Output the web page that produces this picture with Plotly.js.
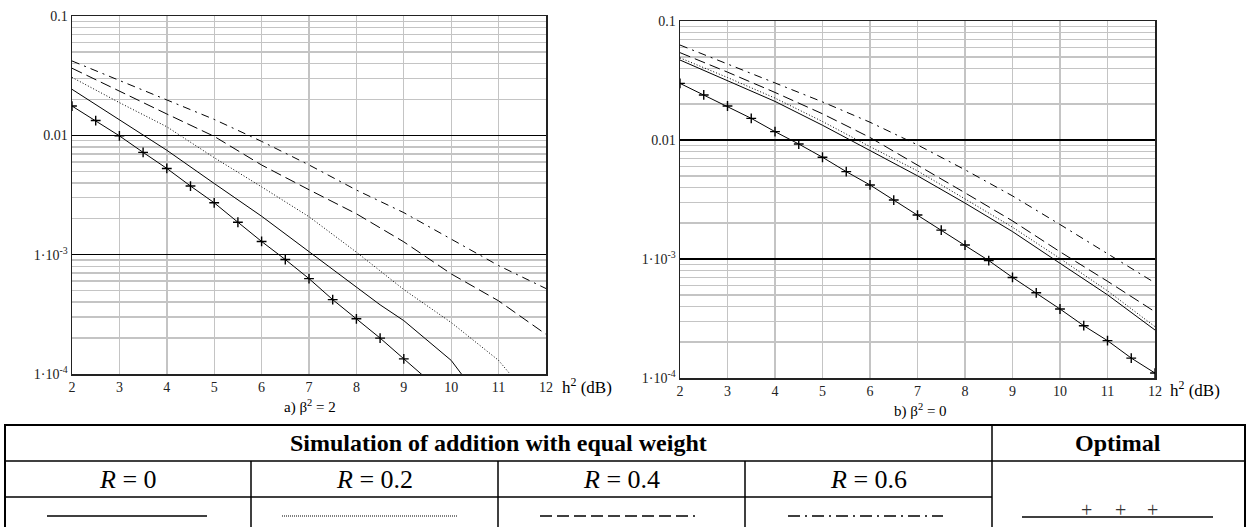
<!DOCTYPE html>
<html>
<head>
<meta charset="utf-8">
<script src="https://cdn.plot.ly/plotly-3.0.1.min.js"></script>
<style>html,body{margin:0;padding:0;background:#fff;}#chart{width:1249px;height:527px;}</style>
</head>
<body>
<div id="chart"></div>
<script>
// ---------- Data: panel a) beta^2 = 2 ----------
const xA = [2, 3, 4, 5, 6, 7, 8, 9, 10, 11, 12];
const xA_R0 = [2, 3, 4, 5, 6, 7, 8, 8.5, 9, 10, 10.4];
const yA_R0 = [0.0243, 0.0135, 0.0075, 0.00395, 0.0021, 0.00106, 0.00053, 0.00038, 0.00028, 0.00013, 0.00008];
const xA_R02 = [2, 3, 4, 5, 6, 7, 8, 9, 10, 11, 11.4];
const yA_R02 = [0.0306, 0.0188, 0.0118, 0.0065, 0.0037, 0.00208, 0.00105, 0.00051, 0.00027, 0.00013, 0.000084];
const yA_R04 = [0.0365, 0.0234, 0.0151, 0.0098, 0.00564, 0.0035, 0.0022, 0.00128, 0.00069, 0.00041, 0.000215];
const yA_R06 = [0.042, 0.0288, 0.0200, 0.0136, 0.0089, 0.00565, 0.00348, 0.00225, 0.00135, 0.00081, 0.00052];
const xA_opt = [2, 2.5, 3, 3.5, 4, 4.5, 5, 5.5, 6, 6.5, 7, 7.5, 8, 8.5, 9, 9.5];
const yA_opt = [0.0176, 0.0133, 0.0099, 0.0072, 0.00528, 0.00376, 0.00272, 0.00187, 0.00129, 0.00091, 0.00063, 0.00042, 0.00029, 0.0002, 0.000134, 0.00009];

// ---------- Data: panel b) beta^2 = 0 ----------
const xB = [2, 3, 4, 5, 6, 7, 8, 9, 10, 11, 12];
const yB_R0 = [0.047, 0.0316, 0.0211, 0.0133, 0.0081, 0.0050, 0.00295, 0.0017, 0.00092, 0.0005, 0.000253];
const yB_R02 = [0.049, 0.0335, 0.0225, 0.0143, 0.0088, 0.0055, 0.0032, 0.00185, 0.00101, 0.00054, 0.00027];
const yB_R04 = [0.0542, 0.0372, 0.0251, 0.0166, 0.0105, 0.00617, 0.0036, 0.00209, 0.00115, 0.00065, 0.00036];
const yB_R06 = [0.0628, 0.0437, 0.0302, 0.0209, 0.0141, 0.0091, 0.00562, 0.00339, 0.00195, 0.0011, 0.00063];
const xB_opt = [2, 2.5, 3, 3.5, 4, 4.5, 5, 5.5, 6, 6.5, 7, 7.5, 8, 8.5, 9, 9.5, 10, 10.5, 11, 11.5, 12];
const yB_opt = [0.0299, 0.0239, 0.0193, 0.0152, 0.01175, 0.00925, 0.00716, 0.00542, 0.00419, 0.00313, 0.00234, 0.00175, 0.00131, 0.00097, 0.0007, 0.00052, 0.00038, 0.000275, 0.000206, 0.000147, 0.00011];

// ---------- Tick labels / texts ----------
const yTickVals = [0.0001, 0.001, 0.01, 0.1];
const yTickText = ['1·10<sup>-4</sup>', '1·10<sup>-3</sup>', '0.01', '0.1'];
const xTickVals = [2, 3, 4, 5, 6, 7, 8, 9, 10, 11, 12];
const captions = ['a) β<sup>2</sup> = 2', 'b) β<sup>2</sup> = 0'];
const xLabel = 'h<sup>2</sup> (dB)';
const tableHeader = 'Simulation of addition with equal weight';
const optimalHeader = 'Optimal';
const rLabels = ['<i>R</i> = 0', '<i>R</i> = 0.2', '<i>R</i> = 0.4', '<i>R</i> = 0.6'];

// ---------- Styles ----------
const W = 1249, H = 527;
const SERIF = '"Liberation Serif", "Times New Roman", serif';
const lineStyles = {
  R0: 'solid',
  R02: '1px,2px',
  R04: '11px,5px',
  R06: '8px,5px,2px,5px'
};
function px(x) { return x / W; }
function py(y) { return 1 - y / H; }

function curve(x, y, dash, xa, ya) {
  return {x: x, y: y, type: 'scatter', mode: 'lines', xaxis: xa, yaxis: ya,
    line: {color: '#000', width: 1, dash: dash}, hoverinfo: 'skip', showlegend: false};
}
function optCurve(x, y, xa, ya) {
  return {x: x, y: y, type: 'scatter', mode: 'lines+markers', xaxis: xa, yaxis: ya,
    line: {color: '#000', width: 1},
    marker: {symbol: 'cross-thin', size: 7, line: {color: '#000', width: 1.4}},
    hoverinfo: 'skip', showlegend: false};
}

const traces = [
  curve(xA_R0, yA_R0, lineStyles.R0, 'x', 'y'),
  curve(xA_R02, yA_R02, lineStyles.R02, 'x', 'y'),
  curve(xA, yA_R04, lineStyles.R04, 'x', 'y'),
  curve(xA, yA_R06, lineStyles.R06, 'x', 'y'),
  optCurve(xA_opt, yA_opt, 'x', 'y'),
  curve(xB, yB_R0, lineStyles.R0, 'x2', 'y2'),
  curve(xB, yB_R02, lineStyles.R02, 'x2', 'y2'),
  curve(xB, yB_R04, lineStyles.R04, 'x2', 'y2'),
  curve(xB, yB_R06, lineStyles.R06, 'x2', 'y2'),
  optCurve(xB_opt, yB_opt, 'x2', 'y2')
];

const minorVals = [];
for (let e = -4; e < -1; e++) for (let m = 2; m <= 9; m++) minorVals.push(m * Math.pow(10, e));

function xAxis(domain, anchor) {
  return {domain: domain, anchor: anchor, range: [2, 12], tickvals: xTickVals,
    showgrid: true, gridcolor: '#c4c4c4', gridwidth: 1.4, zeroline: false,
    showline: true, linecolor: '#222', linewidth: 1.5, mirror: true, ticks: '',
    tickfont: {family: SERIF, size: 14, color: '#222'}, automargin: false};
}
function yAxis(domain, anchor) {
  return {domain: domain, anchor: anchor, type: 'log', range: [-4, -1],
    tickvals: yTickVals, ticktext: yTickText, showgrid: true, gridcolor: '#000', gridwidth: 1.5,
    minor: {tickvals: minorVals, showgrid: true, gridcolor: '#c4c4c4', gridwidth: 1.4, ticks: ''},
    zeroline: false, showline: true, linecolor: '#222', linewidth: 1.5, mirror: true, ticks: '',
    tickfont: {family: SERIF, size: 14, color: '#222'}, automargin: false};
}

const shapes = [];
function hline(x0, x1, y, w, dash) {
  shapes.push({type: 'line', xref: 'paper', yref: 'paper', x0: px(x0), x1: px(x1), y0: py(y), y1: py(y),
    line: {color: '#000', width: w, dash: dash || 'solid'}});
}
function vline(x, y0, y1, w) {
  shapes.push({type: 'line', xref: 'paper', yref: 'paper', x0: px(x), x1: px(x), y0: py(y0), y1: py(y1),
    line: {color: '#000', width: w}});
}
// table frame
hline(4, 1246, 425, 2);
hline(4, 1246, 461, 1.5);
hline(4, 992, 497, 1.5);
vline(5, 424, 530, 2);
vline(1245, 424, 530, 2);
vline(992, 424, 530, 1.5);
vline(251, 461, 530, 1.5);
vline(498, 461, 530, 1.5);
vline(745, 461, 530, 1.5);
// legend samples
hline(47, 207, 516, 1.6, lineStyles.R0);
hline(282, 458, 516, 1.2, '1px,1px');
hline(540, 695, 516, 1.6, '12px,5px');
hline(788, 943, 516, 1.6, '12px,5px,2px,5px');
hline(1022, 1213, 517, 1.6, 'solid');

const annotations = [];
function ann(text, x, y, size, opts) {
  annotations.push(Object.assign({text: text, xref: 'paper', yref: 'paper', x: px(x), y: py(y),
    showarrow: false, xanchor: 'center', yanchor: 'middle',
    font: {family: SERIF, size: size, color: '#000'}}, opts || {}));
}
ann(xLabel, 560, 386, 17, {xanchor: 'left'});
ann(xLabel, 1168, 389, 17, {xanchor: 'left'});
ann(captions[0], 310, 406, 15);
ann(captions[1], 920, 410, 15);
ann('<b>' + tableHeader + '</b>', 498, 443, 24);
ann('<b>' + optimalHeader + '</b>', 1118, 443, 24);
const rCenters = [128, 374, 621, 868];
rLabels.forEach((t, i) => ann(t, rCenters[i], 479, 26));
[1086, 1120, 1152].forEach(x => ann('+', x, 510, 20, {font: {family: SERIF, size: 20, color: '#333'}}));

const layout = {
  width: W, height: H, margin: {l: 0, r: 0, t: 0, b: 0},
  paper_bgcolor: '#fff', plot_bgcolor: '#fff', showlegend: false,
  xaxis: xAxis([px(72), px(546)], 'y'),
  yaxis: yAxis([py(374), py(16)], 'x'),
  xaxis2: xAxis([px(680), px(1155)], 'y2'),
  yaxis2: yAxis([py(378), py(21)], 'x2'),
  shapes: shapes, annotations: annotations
};

Plotly.newPlot('chart', traces, layout, {staticPlot: true, displayModeBar: false});
</script>
</body>
</html>
